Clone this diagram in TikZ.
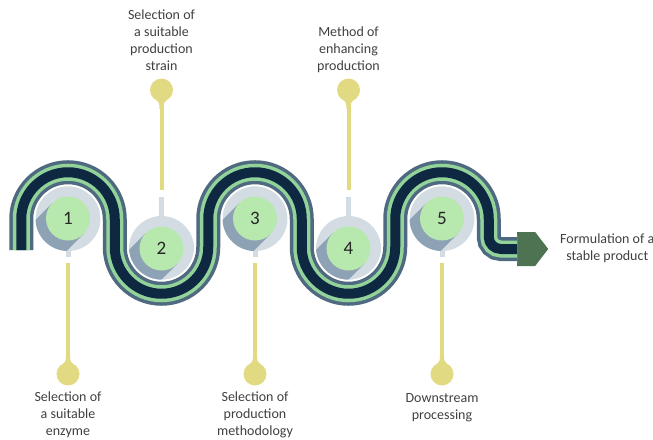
\documentclass[tikz,border=0pt]{standalone}
\usepackage{fontspec}
\setmainfont{Carlito}
\usetikzlibrary{positioning,shapes.symbols}

\definecolor{navy}{HTML}{0E2841}
\definecolor{slate}{HTML}{4F6A80}
\definecolor{stripe}{HTML}{92D39A}
\definecolor{diskgrey}{HTML}{D3DCE3}
\definecolor{diskshade}{HTML}{8EA2B5}
\definecolor{diskgreen}{HTML}{B7E8AD}
\definecolor{pinyellow}{HTML}{E2DA82}
\definecolor{arrowgreen}{HTML}{4D7353}
\definecolor{textgrey}{HTML}{404040}

\tikzstyle{track} = [draw=navy, line width=10, line join=round,
  preaction={draw=white, line width=28},
  preaction={draw=slate, line width=24},
  preaction={draw=stripe, line width=17}]
\tikzstyle{greydisk} = [circle, fill=diskgrey, minimum size=65, inner sep=0]
\tikzstyle{greendisk} = [circle, fill=diskgreen, minimum size=44, inner sep=0,
  font=\fontsize{19}{19}\selectfont, text=black!85]
\tikzstyle{shade} = [draw=diskshade, line width=44]
\tikzstyle{stub} = [draw=diskgrey, line width=5]
\tikzstyle{pinline} = [draw=pinyellow, line width=4]
\tikzstyle{pinball} = [circle, fill=pinyellow, minimum size=23, inner sep=0]
\tikzstyle{label} = [align=center, inner sep=0, text=textgrey,
  font=\fontsize{14}{17}\selectfont]

% grey disk with its long shadow and the numbered green disk on top
\newcommand{\stage}[4]{%
  \node[greydisk] (g#1) at (#2,#3) {};
  \begin{scope}
    \clip (#2,#3) circle (32.5);
    \draw[shade] (#2,#3) -- ++(-60,60);
  \end{scope}
  \node[greendisk] (s#1) at (#2,#3) {#4};
}
% tapered neck of a pin, pointing up (1) or down (-1)
\newcommand{\pinneck}[3]{%
  \fill[pinyellow, shift={(#1,#2)}, yscale=#3]
    (-2,-19) -- (2,-19) .. controls (2,-13) .. (7,-8)
    -- (-7,-8) .. controls (-2,-13) .. cycle;
}

\begin{document}
\begin{tikzpicture}[x=1pt, y=-1pt]
  \useasboundingbox (0,0) rectangle (653,439);

  % stages
  \stage{1}{68}{218.5}{1}
  \stage{2}{161.5}{248.5}{2}
  \stage{3}{255}{218.5}{3}
  \stage{4}{348.5}{248.5}{4}
  \stage{5}{442}{218.5}{5}

  % end of the road
  \node[signal, signal to=east, signal pointer angle=105, fill=arrowgreen,
    minimum width=31, minimum height=34, inner sep=0, anchor=west] (arr) at (517,249) {};
  \node[label, anchor=west] (final) at (560,248) {Formulation of a\\stable product};

  % winding road
  \coordinate (start) at (21.25,250);
  \draw[track] (start) -- ++(0,-31)
    arc[start angle=180, end angle=360, radius=46.75] -- ++(0,28)
    arc[start angle=180, end angle=0, radius=46.75] -- ++(0,-28)
    arc[start angle=180, end angle=360, radius=46.75] -- ++(0,28)
    arc[start angle=180, end angle=0, radius=46.75] -- ++(0,-28)
    arc[start angle=180, end angle=360, radius=46.75] -- ++(0,18)
    arc[start angle=180, end angle=90, radius=12] -- (arr.west);

  % pins below the road
  \draw[stub] (g1.south) -- ++(0,6);
  \draw[stub] (g3.south) -- ++(0,6);
  \draw[stub] (g5.south) -- ++(0,6);
  \node[pinball] (p1) at (68,374) {};
  \node[pinball] (p3) at (255,374) {};
  \node[pinball] (p5) at (442,374) {};
  \coordinate (t1) at (68,263);
  \coordinate (t3) at (255,263);
  \coordinate (t5) at (442,263);
  \draw[pinline] (t1) -- (p1);
  \draw[pinline] (t3) -- (p3);
  \draw[pinline] (t5) -- (p5);
  \pinneck{68}{374}{1}
  \pinneck{255}{374}{1}
  \pinneck{442}{374}{1}

  % pins above the road
  \draw[stub] (g2.north) -- (161.5,197);
  \draw[stub] (g4.north) -- (348.5,197);
  \node[pinball] (p2) at (161.5,90) {};
  \node[pinball] (p4) at (348.5,90) {};
  \coordinate (t2) at (161.5,190);
  \coordinate (t4) at (348.5,190);
  \draw[pinline] (t2) -- (p2);
  \draw[pinline] (t4) -- (p4);
  \pinneck{161.5}{90}{-1}
  \pinneck{348.5}{90}{-1}

  % labels
  \node[label, below=6pt of p1] (l1) {Selection of\\a suitable\\enzyme};
  \node[label, above=7pt of p2] (l2) {Selection of\\a suitable\\production\\strain};
  \node[label, below=6pt of p3] (l3) {Selection of\\production\\methodology};
  \node[label, above=5pt of p4] (l4) {Method of\\enhancing\\production};
  \node[label, below=8pt of p5] (l5) {Downstream\\processing};
\end{tikzpicture}
\end{document}
